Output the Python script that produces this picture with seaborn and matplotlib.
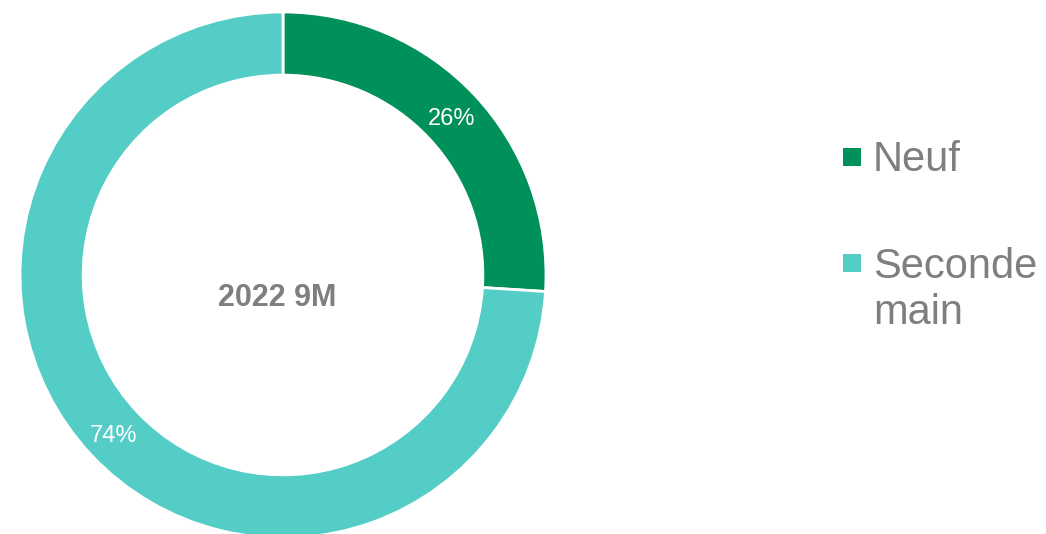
import matplotlib
matplotlib.use('Agg')
import matplotlib.pyplot as plt
import seaborn as sns

# data
categories = ['Neuf', 'Seconde\nmain']
shares = [26, 74]
center_label = '2022 9M'
colors = ['#009059', '#53CDC6']
text_grey = '#7F7F7F'

sns.set_theme(style='white')
plt.rcParams['font.family'] = ['Liberation Sans', 'DejaVu Sans']

W, H = 1046, 534
fig = plt.figure(figsize=(W / 100, H / 100), dpi=100)
fig.patch.set_facecolor('white')

# donut: centre (283, 275) px from top-left, outer radius 263 px
R = 263
half = 280
cx, cy = 283, H - 275
ax = fig.add_axes([(cx - half) / W, (cy - half) / H, 2 * half / W, 2 * half / H])

wedges, texts, autotexts = ax.pie(
    shares, colors=colors, startangle=90, counterclock=False, radius=1,
    autopct=lambda p: f'{p:.0f}%', pctdistance=0.882,
    textprops=dict(color='white', fontsize=17),
    wedgeprops=dict(width=0.24, edgecolor='white', linewidth=2))
for t in autotexts:
    t.set_va('center_baseline')
lim = half / R
ax.set_xlim(-lim, lim)
ax.set_ylim(-lim, lim)
ax.set_aspect('equal')
ax.axis('off')

ax.text(-6 / R, -31 / R, center_label, ha='center', va='baseline',
        fontsize=22, fontweight='bold', color=text_grey)

# legend drawn by hand (square marker + text, first line aligned)
leg_y = [156.5, 262.5]
for i, (lab, col) in enumerate(zip(categories, colors)):
    y = leg_y[i]
    fig.lines.append(plt.Line2D([851.5 / W], [1 - y / H], marker='s', markersize=12.3,
                                markeredgewidth=0, color=col, linestyle='none',
                                transform=fig.transFigure))
    nlines = lab.count('\n')
    fig.text(873 / W, 1 - (y + 14 + 48 * nlines) / H, lab, ha='left', va='baseline',
             fontsize=30, color=text_grey)

fig.savefig('out.png', dpi=100, facecolor='white')
